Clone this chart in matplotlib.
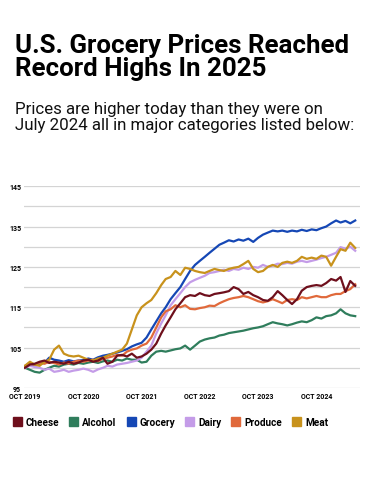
import pandas as pd
import matplotlib.pyplot as plt
import matplotlib.dates as mdates
from matplotlib.patches import Patch

dates = pd.date_range("2019-10-01", periods=69, freq="MS")

grocery = [100.2, 100.8, 100.5, 101.0, 101.3, 102.5, 102.0, 101.8, 101.5, 101.9, 101.6, 101.8,
           101.9, 102.3, 102.0, 102.6, 103.0, 103.2, 103.5, 103.8, 104.2, 104.6, 105.3, 105.8,
           106.2, 107.5, 109.5, 111.5, 113.5, 115.0, 117.0, 118.5, 120.0, 122.0, 124.0, 125.5,
           126.5, 127.5, 128.5, 129.5, 130.5, 131.0, 131.6, 131.3, 131.8, 131.5, 132.0, 131.2,
           132.2, 133.0, 133.5, 134.0, 133.8, 134.0, 133.7, 134.0, 133.8, 134.2, 133.9, 134.3,
           134.1, 134.6, 135.0, 135.8, 136.5, 136.0, 136.4, 135.8, 136.5]
meat = [100.5, 101.5, 100.8, 100.5, 101.5, 102.0, 104.5, 105.5, 103.5, 103.0, 102.8, 103.0,
        102.5, 102.0, 101.8, 102.3, 102.5, 103.0, 103.5, 104.0, 104.5, 106.0, 109.5, 113.0,
        115.0, 116.0, 116.8, 118.5, 120.5, 122.0, 122.5, 124.0, 123.0, 124.8, 124.5, 124.0,
        123.7, 123.5, 124.0, 124.5, 124.2, 124.0, 124.5, 124.8, 125.0, 125.7, 126.5, 124.5,
        123.7, 124.0, 125.0, 125.5, 125.0, 126.0, 126.3, 126.0, 126.5, 127.5, 127.0, 127.3,
        127.0, 127.8, 127.5, 125.3, 127.5, 129.4, 129.0, 131.0, 129.7]
dairy = [100.0, 100.5, 100.2, 100.0, 99.5, 99.8, 99.0, 99.2, 99.5, 99.0, 99.3, 99.5,
         99.8, 99.5, 99.0, 99.6, 100.0, 100.5, 100.3, 100.8, 101.0, 101.2, 101.5, 101.8,
         102.5, 104.0, 105.5, 108.5, 111.0, 113.0, 115.5, 117.0, 118.5, 120.0, 121.2, 121.8,
         122.3, 122.8, 123.5, 123.7, 124.0, 124.3, 124.0, 124.5, 124.3, 124.8, 124.5, 125.0,
         124.8, 125.5, 125.0, 125.3, 125.8, 125.7, 126.0, 125.8, 126.3, 126.5, 126.2, 126.5,
         126.8, 127.2, 127.5, 128.0, 128.5, 129.9, 129.5, 130.0, 129.0]
cheese = [100.0, 100.8, 101.0, 101.5, 101.8, 101.2, 101.5, 101.3, 101.0, 101.5, 101.0, 101.3,
          101.8, 102.0, 101.5, 101.8, 102.5, 101.0, 101.5, 103.0, 103.2, 102.8, 103.5, 102.5,
          102.8, 103.5, 104.5, 106.0, 108.5, 110.5, 112.5, 114.5, 116.0, 117.5, 118.0, 117.8,
          118.5, 118.0, 117.8, 118.3, 118.5, 118.7, 119.0, 120.0, 119.5, 118.3, 118.8, 118.0,
          117.5, 116.8, 116.6, 117.5, 119.0, 118.0, 116.8, 115.8, 117.0, 119.1, 120.0, 120.3,
          120.5, 120.3, 121.0, 122.0, 121.6, 122.5, 118.8, 121.5, 120.3]
produce = [100.5, 101.0, 100.8, 101.2, 101.0, 101.5, 101.2, 100.8, 101.3, 101.0, 101.5, 101.8,
           101.5, 101.8, 102.0, 101.6, 102.3, 102.5, 102.8, 103.2, 103.0, 104.0, 104.5, 104.8,
           105.5, 106.0, 107.5, 110.0, 112.5, 114.0, 114.5, 115.5, 115.0, 115.5, 114.6, 114.5,
           114.8, 115.0, 115.4, 115.3, 116.0, 116.5, 117.0, 117.3, 117.5, 117.8, 117.5, 117.0,
           116.5, 116.2, 116.5, 117.0, 116.5, 116.0, 116.8, 117.0, 116.8, 117.5, 117.2, 117.5,
           117.8, 117.5, 117.5, 118.0, 118.3, 118.3, 119.0, 119.5, 120.7]
alcohol = [100.0, 99.5, 99.0, 98.8, 99.5, 100.0, 100.5, 100.3, 100.8, 101.0, 100.8, 101.2,
           101.0, 101.3, 101.5, 101.2, 101.6, 101.8, 101.5, 102.0, 101.8, 102.3, 102.0, 102.0,
           101.3, 101.5, 103.0, 104.0, 104.2, 104.0, 104.3, 104.6, 104.8, 105.5, 104.5, 105.5,
           106.5, 107.0, 107.3, 107.5, 108.0, 108.2, 108.6, 108.8, 109.0, 109.2, 109.5, 109.8,
           110.0, 110.3, 110.8, 111.3, 111.0, 110.8, 110.5, 110.8, 111.2, 111.5, 111.3, 111.8,
           112.5, 112.2, 112.8, 113.0, 113.5, 114.5, 113.5, 113.0, 112.8]

names = ["Cheese", "Alcohol", "Grocery", "Dairy", "Produce", "Meat"]
series = [cheese, alcohol, grocery, dairy, produce, meat]
colors = ["#6e0f1c", "#2f7d5c", "#1547b5", "#c49ce8", "#e0693b", "#c8921c"]
zorder = [6, 2, 3, 4, 5, 5.5]

fig = plt.figure(figsize=(3.75, 4.85), dpi=100)
fig.text(0.04, 0.832, "U.S. Grocery Prices Reached\nRecord Highs In 2025",
         fontsize=18.6, fontweight="bold", family="Roboto", linespacing=0.98,
         va="bottom", ha="left")
fig.text(0.04, 0.726, "Prices are higher today than they were on\nJuly 2024 all in major categories listed below:",
         fontsize=12.2, family="Roboto", linespacing=1.1, va="bottom", ha="left", color="#111111")

ax = fig.add_axes([0.064, 0.198, 0.896, 0.416])
for name, vals, c, z in zip(names, series, colors, zorder):
    ax.plot(dates, vals, color=c, lw=1.6, label=name, zorder=z)

ax.set_ylim(95, 145)
ax.set_yticks(range(95, 146, 5))
ax.set_yticklabels([str(v) if v % 10 == 5 else "" for v in range(95, 146, 5)])
ax.grid(axis="y", color="#d4d4d4", lw=0.9)
ax.set_axisbelow(True)
ax.set_xlim(pd.Timestamp("2019-09-25"), pd.Timestamp("2025-07-01"))
ax.set_xticks([pd.Timestamp(f"{y}-10-01") for y in range(2019, 2025)])
ax.xaxis.set_major_formatter(mdates.DateFormatter("OCT %Y"))
for s in ax.spines.values():
    s.set_visible(False)
ax.tick_params(length=0, pad=3)
ax.tick_params(axis="y", pad=2)
for lab in ax.get_xticklabels() + ax.get_yticklabels():
    lab.set_fontsize(5)
    lab.set_fontweight("bold")
    lab.set_family("Roboto")

handles = [Patch(color=c) for c in colors]
fig.legend(handles, names, loc="center left", bbox_to_anchor=(0.01, 0.128), ncol=6,
           frameon=False, handlelength=0.9, handleheight=0.9, handletextpad=0.4,
           columnspacing=1.0, prop={"family": "Roboto", "weight": "bold", "size": 7.2})

fig.savefig("out.png", dpi=100)
